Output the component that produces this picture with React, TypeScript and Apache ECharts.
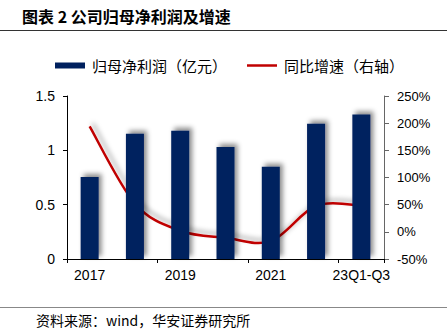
import React, { useEffect, useRef } from "react";
import * as echarts from "echarts";

const categories = ["2017", "2018", "2019", "2020", "2021", "2022", "23Q1-Q3"];
const netProfit = [0.755, 1.153, 1.18, 1.03, 0.85, 1.245, 1.33];
const growth = [194, 52, 2, -11, -17, 48, 48];
const titleText = "图表 2 公司归母净利润及增速";
const sourceText = "资料来源：wind，华安证券研究所";
const barName = "归母净利润（亿元）";
const lineName = "同比增速（右轴）";

const CJK = '"Noto Sans CJK SC", "Liberation Sans", sans-serif';
const LAT = '"Liberation Sans", Arial, sans-serif';
const RED = "#C00000";

function catmullPath(pts: number[][]): string {
  let d = `M${pts[0][0]},${pts[0][1]}`;
  for (let i = 0; i < pts.length - 1; i++) {
    const p0 = pts[Math.max(i - 1, 0)];
    const p1 = pts[i];
    const p2 = pts[i + 1];
    const p3 = pts[Math.min(i + 2, pts.length - 1)];
    const c1x = p1[0] + (p2[0] - p0[0]) / 6;
    const c1y = p1[1] + (p2[1] - p0[1]) / 6;
    const c2x = p2[0] - (p3[0] - p1[0]) / 6;
    const c2y = p2[1] - (p3[1] - p1[1]) / 6;
    d += ` C${c1x},${c1y} ${c2x},${c2y} ${p2[0]},${p2[1]}`;
  }
  return d;
}

export default function App() {
  const ref = useRef<HTMLDivElement>(null);
  useEffect(() => {
    if (!ref.current) return;
    const chart = echarts.init(ref.current, null, { renderer: "svg" });
    chart.setOption({
      animation: false,
      backgroundColor: "#fff",
      grid: { left: 67, right: 63, top: 96, bottom: 76 },
      legend: {
        left: 55,
        top: 58,
        padding: 0,
        itemWidth: 30,
        itemHeight: 6,
        itemGap: 20,
        symbolKeepAspect: true,
        textStyle: { fontFamily: CJK, fontSize: 15, color: "#000", padding: [0, 0, 0, 2] },
        data: [
          { name: barName, icon: "rect" },
          { name: lineName, icon: "path://M0,0L12,0L12,1L0,1Z", itemStyle: { color: RED } },
        ],
      },
      xAxis: {
        type: "category",
        data: categories,
        axisLine: { lineStyle: { color: "#000", width: 1 } },
        axisTick: { show: true, length: 4, lineStyle: { color: "#000" } },
        axisLabel: { interval: 1, color: "#000", fontSize: 14, fontFamily: LAT, margin: 9 },
      },
      yAxis: [
        {
          type: "value",
          min: 0,
          max: 1.5,
          interval: 0.5,
          splitLine: { show: false },
          axisLine: { show: true, lineStyle: { color: "#000" } },
          axisTick: { show: true, length: 4, lineStyle: { color: "#000" } },
          axisLabel: { color: "#000", fontSize: 14, fontFamily: LAT, margin: 12 },
        },
        {
          type: "value",
          min: -50,
          max: 250,
          interval: 50,
          position: "right",
          splitLine: { show: false },
          axisLine: { show: true, lineStyle: { color: "#666" } },
          axisTick: { show: true, length: 5, lineStyle: { color: "#666" } },
          axisLabel: { color: "#000", fontSize: 13, fontFamily: LAT, margin: 13, formatter: "{value}%" },
        },
      ],
      series: [
        {
          name: barName,
          type: "bar",
          data: netProfit,
          barWidth: 18,
          itemStyle: {
            color: "#00205E",
            shadowColor: "rgba(0,0,0,0.45)",
            shadowBlur: 5,
            shadowOffsetX: 3,
            shadowOffsetY: -3,
          },
        },
        {
          name: lineName,
          type: "custom",
          yAxisIndex: 1,
          data: growth.map((v, i) => [i, v]),
          encode: { x: 0, y: 1 },
          itemStyle: { color: RED },
          renderItem: (params: any, api: any) => {
            if (params.dataIndex !== 0) return null;
            const pts = growth.map((v, i) => api.coord([i, v]));
            return {
              type: "path",
              shape: { pathData: catmullPath(pts) },
              style: {
                fill: "none",
                stroke: RED,
                lineWidth: 2.5,
                shadowColor: "rgba(0,0,0,0.35)",
                shadowBlur: 5,
                shadowOffsetX: 3,
                shadowOffsetY: -3,
              },
            };
          },
        },
      ],
      graphic: [
        {
          type: "text",
          left: 22,
          top: 8,
          style: { text: titleText, fontFamily: CJK, fontSize: 16, fontWeight: "bold", fill: "#000" },
        },
        {
          type: "line",
          shape: { x1: 0, y1: 30.5, x2: 447, y2: 30.5 },
          style: { stroke: "#333", lineWidth: 1 },
        },
        {
          type: "line",
          shape: { x1: 0, y1: 307.5, x2: 447, y2: 307.5 },
          style: { stroke: "#888", lineWidth: 1 },
        },
        {
          type: "text",
          left: 36,
          top: 313,
          style: { text: sourceText, fontFamily: CJK, fontSize: 14, fill: "#000" },
        },
      ],
    });
    return () => chart.dispose();
  }, []);
  return (
    <div
      ref={ref}
      style={{ position: "fixed", left: 0, top: 0, width: 447, height: 335 }}
    />
  );
}
